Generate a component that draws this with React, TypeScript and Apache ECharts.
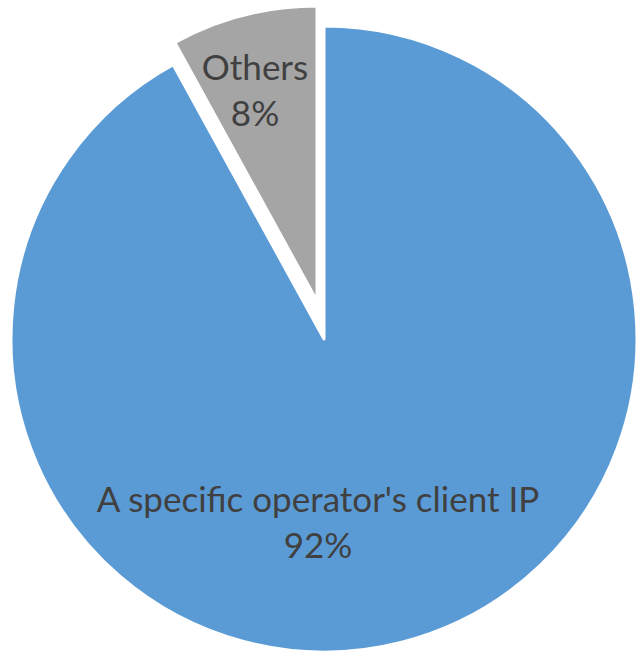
import React, { useEffect, useRef } from "react";
import * as echarts from "echarts";

const categories = ["A specific operator's client IP", "Others"];
const values = [92, 8];
const colors = ["#5B9BD5", "#A5A5A5"];

export default function App() {
  const ref = useRef<HTMLDivElement>(null);
  useEffect(() => {
    if (!ref.current) return;
    const chart = echarts.init(ref.current, null, { renderer: "svg" });
    const labelStyle = {
      show: true,
      position: "inside",
      formatter: "{b}\n{d}%",
      color: "#404040",
      fontFamily: "Lato",
      fontSize: 35,
      lineHeight: 46,
      align: "center",
    };
    const makeData = (visibleIndex: number) =>
      categories.map((name, i) => ({
        name,
        value: values[i],
        itemStyle:
          i === visibleIndex
            ? { color: colors[i], borderColor: "#ffffff", borderWidth: 3 }
            : { color: "rgba(0,0,0,0)", borderWidth: 0 },
        label: i === visibleIndex ? labelStyle : { show: false },
      }));
    chart.setOption({
      animation: false,
      backgroundColor: "#ffffff",
      series: [
        {
          type: "pie",
          silent: true,
          center: [324, 339],
          radius: [0, 313],
          startAngle: 90,
          clockwise: true,
          avoidLabelOverlap: false,
          labelLine: { show: false },
          emphasis: { disabled: true },
          data: makeData(0),
          labelLayout: () => ({ x: 318, y: 521, align: "center", verticalAlign: "middle" }),
        },
        {
          type: "pie",
          silent: true,
          center: [317, 301],
          radius: [0, 295],
          startAngle: 90,
          clockwise: true,
          avoidLabelOverlap: false,
          labelLine: { show: false },
          emphasis: { disabled: true },
          data: makeData(1),
          labelLayout: () => ({ x: 255, y: 89, align: "center", verticalAlign: "middle" }),
        },
      ],
    });
    return () => chart.dispose();
  }, []);
  return (
    <div
      ref={ref}
      style={{ position: "fixed", left: 0, top: 0, width: 636, height: 653 }}
    />
  );
}
